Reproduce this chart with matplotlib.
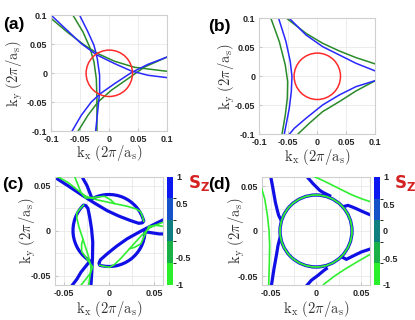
import matplotlib
matplotlib.use("Agg")
import matplotlib.pyplot as plt
from matplotlib.patches import Arc, Circle
from matplotlib.transforms import Affine2D
from matplotlib.colors import ListedColormap, BoundaryNorm
from matplotlib.cm import ScalarMappable

plt.rcParams['font.family'] = ['Liberation Sans', 'DejaVu Sans']
plt.rcParams['mathtext.fontset'] = 'cm'

# ---- data (k in units of 2pi/a_s) ----
r_circle = 0.04

# (a) three blue and three green contours
a_blue = [
    [(-0.0989, 0.0989), (-0.077, 0.0782), (-0.0483, 0.0511), (-0.0224, 0.0322), (0.0092, 0.0167),
     (0.0379, 0.004), (0.0667, -0.0034), (0.1, -0.0075)],
    [(-0.0511, 0.1), (-0.0368, 0.0713), (-0.0264, 0.0483), (-0.0207, 0.0253), (-0.0167, -0.0034),
     (-0.0167, -0.0322), (-0.0195, -0.0609), (-0.0236, -0.1)],
    [(-0.0644, -0.1), (-0.0483, -0.0724), (-0.031, -0.0494), (-0.0155, -0.0351), (0.0092, -0.0178),
     (0.0379, 0.0011), (0.0667, 0.0155), (0.1, 0.0282)],
]
a_green = [
    [(-0.1, 0.0943), (-0.0713, 0.0701), (-0.0425, 0.0483), (-0.0195, 0.0339), (0.0092, 0.0207),
     (0.0437, 0.0103), (0.1, 0.0034)],
    [(-0.0626, 0.1), (-0.0454, 0.0713), (-0.0339, 0.0454), (-0.0264, 0.0195), (-0.0224, -0.0092),
     (-0.0213, -0.0437), (-0.0213, -0.1)],
    [(-0.054, -0.1), (-0.0368, -0.0724), (-0.0195, -0.0494), (0.0034, -0.0293), (0.0322, -0.0092),
     (0.0609, 0.0109), (0.1, 0.0282)],
]

# (b)
b_blue = [
    [(-0.0667, 0.1), (-0.054, 0.0598), (-0.0466, 0.0253), (-0.0437, 0.0), (-0.0448, -0.0264),
     (-0.0483, -0.0552), (-0.057, -0.1)],
    [(-0.0483, 0.1), (-0.0195, 0.0713), (0.0092, 0.0511), (0.0379, 0.0368), (0.0667, 0.0224), (0.1, 0.0092)],
    [(0.1, -0.0075), (0.0667, -0.0178), (0.0379, -0.0322), (0.0092, -0.0494), (-0.0195, -0.0724),
     (-0.0397, -0.0897), (-0.0483, -0.1)],
]
b_green = [
    [(-0.08, 0.1), (-0.0655, 0.0598), (-0.0552, 0.0195), (-0.0511, -0.0092), (-0.0517, -0.0379),
     (-0.0552, -0.0667), (-0.0609, -0.1)],
    [(-0.0529, 0.1), (-0.0195, 0.0741), (0.0092, 0.0569), (0.0379, 0.0437), (0.0667, 0.0322), (0.1, 0.0213)],
    [(0.1, -0.0075), (0.0667, -0.0253), (0.0379, -0.0437), (0.0092, -0.0609), (-0.0138, -0.081),
     (-0.0339, -0.1)],
]

# (c) one sector of the hybridised contours, repeated every 120 deg
c_sector_angles = [0, -120, 120]
c_arc_deg = (15, 118)
c_blue_exit = [(-0.0188, 0.0353), (-0.021, 0.041), (-0.0245, 0.050), (-0.029, 0.058), (-0.034, 0.070)]
c_blue_inner = [(0.0386, 0.0104), (0.037, 0.0085), (0.033, 0.008), (0.024, 0.011), (0.011, 0.016),
                (-0.002, 0.022), (-0.017, 0.031), (-0.031, 0.040), (-0.046, 0.050), (-0.060, 0.059),
                (-0.072, 0.067)]
c_green_1 = [(-0.072, 0.068), (-0.059, 0.061), (-0.045, 0.053), (-0.035, 0.045), (-0.026, 0.038),
             (-0.013, 0.034), (0.0056, 0.030), (0.02, 0.027), (0.030, 0.024), (0.035, 0.021),
             (0.037, 0.016), (0.0386, 0.0104)]
c_green_2 = [(-0.042, 0.072), (-0.039, 0.062), (-0.035, 0.052), (-0.031, 0.042), (-0.026, 0.036),
             (-0.015, 0.037), (-0.005, 0.038), (0.002, 0.034), (0.006, 0.030)]

# (d)
d_blue = [
    [(-0.0504, 0.0611), (-0.0478, 0.047), (-0.0452, 0.0322), (-0.043, 0.023), (-0.0415, 0.0174), (-0.0393, 0.013)],
    [(-0.0400, -0.0075), (-0.0422, -0.016), (-0.044, -0.027), (-0.0467, -0.042), (-0.0496, -0.061)],
    [(-0.0107, 0.0611), (-0.0033, 0.0526), (0.0041, 0.0452), (0.0078, 0.0428), (0.0152, 0.0392)],
    [(0.0300, 0.0270), (0.0356, 0.0285), (0.043, 0.0256), (0.0504, 0.0222), (0.0615, 0.0174)],
    [(0.0615, -0.0196), (0.0504, -0.0233), (0.0411, -0.0278), (0.0337, -0.0315), (0.029, -0.029)],
    [(0.0115, -0.0419), (0.0089, -0.0437), (0.0022, -0.0493), (-0.0052, -0.0548), (-0.0107, -0.0611)],
]
d_green = [
    [(-0.0615, 0.0507), (-0.057, 0.0359), (-0.054, 0.0174), (-0.0522, 0.0007), (-0.0515, -0.016),
     (-0.0519, -0.038), (-0.0526, -0.061)],
    [(-0.0033, 0.0611), (0.0096, 0.0552), (0.0244, 0.0478), (0.0393, 0.0404), (0.0504, 0.0359), (0.0615, 0.0322)],
    [(0.0615, -0.0252), (0.0467, -0.0337), (0.0319, -0.0426), (0.0207, -0.05), (0.0096, -0.0585), (0.007, -0.061)],
]

ticks_ab = [-0.1, -0.05, 0, 0.05, 0.1]
ticklabels_ab = ['-0.1', '-0.05', '0', '0.05', '0.1']
ticks_cd = [-0.05, 0, 0.05]
ticklabels_cd = ['-0.05', '0', '0.05']
minor_cd = [-0.025, 0.025]
sz_ticks = [-1, -0.5, 0, 0.5, 1]
sz_labels = ['-1', '-0.5', '0', '0.5', '1']
sz_colors = ['#2bef2b', '#19b048', '#0f7f80', '#1552c8', '#0c18ef']

BLUE_AB, GREEN_AB, RED = '#2828ff', '#2a8a2a', '#ff2b2b'
BLUE_CD, GREEN_CD = '#1010e6', '#30ee30'


def xy(pts):
    return [p[0] for p in pts], [p[1] for p in pts]


def style(ax, lim, ticks, labels, minor=None):
    ax.set_xlim(-lim, lim)
    ax.set_ylim(-lim, lim)
    ax.set_xticks(ticks)
    ax.set_xticklabels(labels)
    ax.set_yticks(ticks)
    ax.set_yticklabels(labels)
    if minor:
        ax.set_xticks(minor, minor=True)
        ax.set_yticks(minor, minor=True)
    ax.grid(True, which='both', color='#e9e9e9', lw=0.6)
    ax.set_axisbelow(True)
    ax.tick_params(which='major', direction='in', length=2, color='#c8c8c8',
                   labelsize=6.5, pad=3, labelcolor='#262626')
    ax.tick_params(which='minor', length=0)
    for lab in ax.get_xticklabels() + ax.get_yticklabels():
        lab.set_fontweight('bold')
    for s in ax.spines.values():
        s.set_color('#cfcfcf')
        s.set_linewidth(0.8)


def klabels(ax, xl_y, yl_x):
    ax.text(0.5, xl_y, r'$\mathrm{k_x\ (2\pi/a_s)}$', transform=ax.transAxes,
            ha='center', va='center', fontsize=10.5, color='#333333')
    ax.text(yl_x, 0.5, r'$\mathrm{k_y\ (2\pi/a_s)}$', transform=ax.transAxes,
            ha='center', va='center', fontsize=10.5, rotation=90, color='#333333')


W, H = 415, 320
fig = plt.figure(figsize=(W / 100, H / 100), dpi=100)


def box(x0, y0, x1, y1):
    return [x0 / W, 1 - y1 / H, (x1 - x0) / W, (y1 - y0) / H]


ax_a = fig.add_axes(box(51.3, 15.3, 167.3, 131.3))
ax_b = fig.add_axes(box(259.3, 18.3, 375.3, 134.3))
ax_c = fig.add_axes(box(55, 176.5, 163, 284.5))
ax_d = fig.add_axes(box(262, 177, 370, 285))
cax_c = fig.add_axes(box(167.3, 176.5, 173.3, 284.5))
cax_d = fig.add_axes(box(374.3, 177, 380.3, 285))

# (a), (b)
for ax, blues, greens in [(ax_a, a_blue, a_green), (ax_b, b_blue, b_green)]:
    for pts in greens:
        ax.plot(*xy(pts), color=GREEN_AB, lw=1.1)
    for pts in blues:
        ax.plot(*xy(pts), color=BLUE_AB, lw=1.1)
    ax.add_patch(Circle((0, 0), r_circle, fill=False, edgecolor=RED, lw=1.1, zorder=4))
    style(ax, 0.1, ticks_ab, ticklabels_ab)

klabels(ax_a, -0.19, -0.313)
klabels(ax_b, -0.193, -0.281)

# (c)
for ang in c_sector_angles:
    tr = Affine2D().rotate_deg(ang) + ax_c.transData
    ax_c.add_patch(Arc((0, 0), 2 * r_circle, 2 * r_circle, theta1=c_arc_deg[0], theta2=c_arc_deg[1],
                       color=BLUE_CD, lw=2.3, transform=tr, zorder=2))
    ax_c.plot(*xy(c_blue_exit), color=BLUE_CD, lw=2.3, transform=tr, zorder=2)
    ax_c.plot(*xy(c_blue_inner), color=BLUE_CD, lw=2.3, transform=tr, zorder=2,
              solid_capstyle='round')
    ax_c.plot(*xy(c_green_1), color=GREEN_CD, lw=1.2, transform=tr, zorder=3)
    ax_c.plot(*xy(c_green_2), color=GREEN_CD, lw=1.2, transform=tr, zorder=3)
style(ax_c, 0.06, ticks_cd, ticklabels_cd, minor_cd)
klabels(ax_c, -0.225, -0.25)

# (d)
ax_d.add_patch(Circle((0, 0), r_circle, fill=False, edgecolor=BLUE_CD, lw=2.4, zorder=2))
ax_d.add_patch(Circle((0, 0), r_circle, fill=False, edgecolor=GREEN_CD, lw=1.3, zorder=3))
for pts in d_blue:
    ax_d.plot(*xy(pts), color=BLUE_CD, lw=2.3, zorder=2)
for pts in d_green:
    ax_d.plot(*xy(pts), color=GREEN_CD, lw=1.2, zorder=3)
style(ax_d, 0.06, ticks_cd, ticklabels_cd, minor_cd)
klabels(ax_d, -0.22, -0.234)

# colorbars
cmap = ListedColormap(sz_colors)
norm = BoundaryNorm([-1, -0.6, -0.2, 0.2, 0.6, 1], cmap.N)
for cax in (cax_c, cax_d):
    cb = fig.colorbar(ScalarMappable(norm=norm, cmap=cmap), cax=cax, ticks=sz_ticks)
    cb.ax.set_yticklabels(sz_labels)
    cb.outline.set_visible(False)
    cb.ax.tick_params(length=0, pad=2, labelsize=6.5, labelcolor='#262626')
    for lab in cb.ax.get_yticklabels():
        lab.set_fontweight('bold')

for xs in (188, 394):
    fig.text(xs / W, 1 - 183 / H, r'$\mathbf{S_Z}$', color='#d42020', fontsize=12,
             math_fontfamily='dejavusans', ha='left', va='center')

for lab, (px, py) in zip(['(a)', '(b)', '(c)', '(d)'],
                         [(13.5, 24), (219, 27), (13, 184.5), (219, 184.5)]):
    fig.text(px / W, 1 - py / H, lab, fontsize=12.5, fontweight='bold', ha='center', va='center')

fig.savefig('out.png', dpi=100)
